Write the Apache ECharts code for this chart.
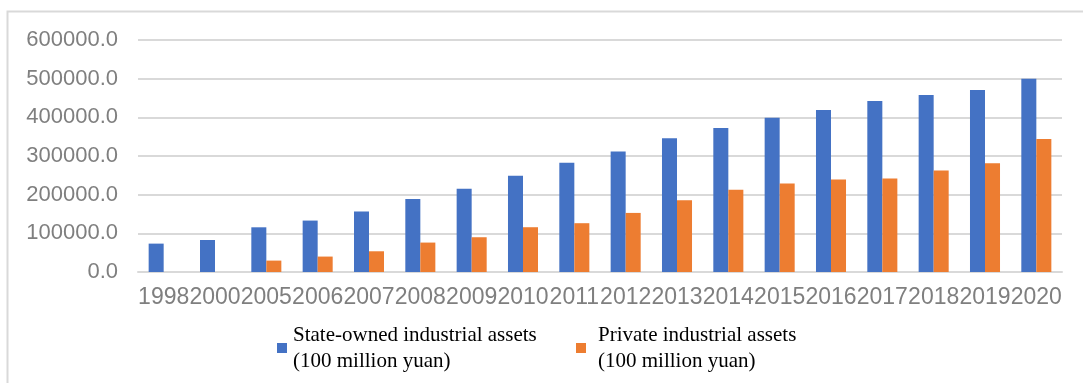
<!DOCTYPE html>
<html>
<head>
<meta charset="utf-8">
<style>
  html, body { margin: 0; padding: 0; background: #ffffff; }
  #chart { width: 1083px; height: 383px; }
</style>
<script src="https://cdn.jsdelivr.net/npm/echarts@6/dist/echarts.min.js"></script>
</head>
<body>
<div id="chart"></div>
<script>
// Industrial assets by ownership, 100 million yuan
const years = ['1998', '2000', '2005', '2006', '2007', '2008', '2009', '2010', '2011',
  '2012', '2013', '2014', '2015', '2016', '2017', '2018', '2019', '2020'];
const stateOwned = [73400, 82800, 115600, 133000, 156500, 189000, 215000, 248700, 282400,
  311900, 345600, 372300, 399000, 418900, 442200, 457700, 470700, 500000];
const privateOwned = [null, null, 29500, 39900, 53600, 76100, 89900, 115800, 126200,
  152800, 185700, 212400, 229000, 239000, 241500, 262200, 281100, 344000];
const seriesNames = [
  'State-owned industrial assets\n(100 million yuan)',
  'Private industrial assets\n(100 million yuan)'
];
const yTicks = { min: 0, max: 600000, step: 100000 };

const chart = echarts.init(document.getElementById('chart'), null, { renderer: 'canvas' });

const legendText = {
  fontFamily: '"Liberation Serif", "Times New Roman", serif',
  fontSize: 21,
  lineHeight: 26,
  color: '#000000'
};

chart.setOption({
  backgroundColor: '#ffffff',
  animation: false,
  graphic: [{
    type: 'rect',
    shape: { x: 7.5, y: 11.5, width: 1200, height: 500 },
    style: { fill: 'none', stroke: '#d9d9d9', lineWidth: 2 },
    silent: true,
    z: -1
  }],
  grid: { left: 138, right: 21, top: 40, bottom: 111, containLabel: false },
  legend: [{
    data: [seriesNames[0]],
    left: 272,
    top: 313,
    itemWidth: 10,
    itemHeight: 10,
    icon: 'rect',
    textStyle: Object.assign({ padding: [0, 0, 8, 1] }, legendText)
  }, {
    data: [seriesNames[1]],
    left: 571,
    top: 317,
    itemWidth: 10,
    itemHeight: 10,
    icon: 'rect',
    textStyle: Object.assign({ padding: [0, 0, 0, 7] }, legendText)
  }],
  xAxis: {
    type: 'category',
    data: years,
    axisTick: { show: false },
    axisLine: { lineStyle: { color: '#d9d9d9', width: 2 } },
    axisLabel: {
      interval: 0,
      margin: 14,
      color: '#7f7f7f',
      fontSize: 23,
      fontFamily: '"Liberation Sans", Arial, sans-serif'
    }
  },
  yAxis: {
    type: 'value',
    min: yTicks.min,
    max: yTicks.max,
    interval: yTicks.step,
    axisLine: { show: false },
    axisTick: { show: false },
    splitLine: { lineStyle: { color: '#d9d9d9', width: 2 } },
    axisLabel: {
      margin: 20,
      color: '#7f7f7f',
      fontSize: 22,
      fontFamily: '"Liberation Sans", Arial, sans-serif',
      formatter: v => v.toFixed(1)
    }
  },
  series: [{
    name: seriesNames[0],
    type: 'bar',
    data: stateOwned,
    barGap: '0%',
    barCategoryGap: '41.5%',
    itemStyle: { color: '#4472c4' }
  }, {
    name: seriesNames[1],
    type: 'bar',
    data: privateOwned,
    barGap: '0%',
    barCategoryGap: '41.5%',
    itemStyle: { color: '#ed7d31' }
  }]
});
</script>
</body>
</html>
